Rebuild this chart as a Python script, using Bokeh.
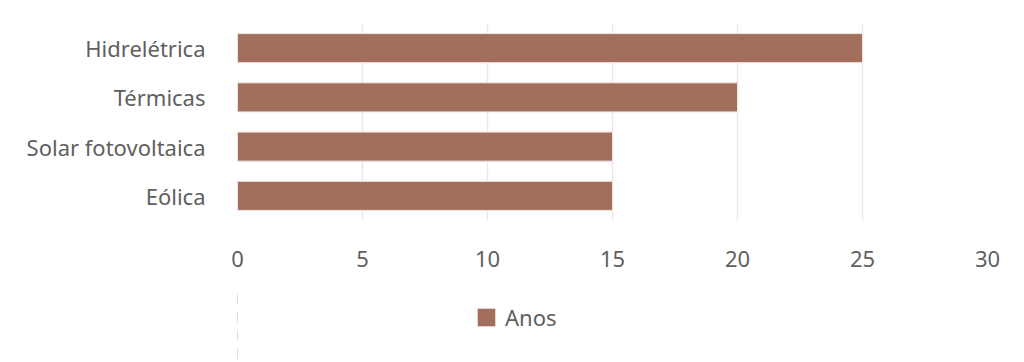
from bokeh.plotting import figure
from bokeh.models import ColumnDataSource, Legend, LegendItem, FactorRange
from bokeh.layouts import column
from bokeh.embed import file_html
from bokeh.resources import INLINE

categories = ["Hidrelétrica", "Térmicas", "Solar fotovoltaica", "Eólica"]
anos = [25, 20, 15, 15]
x_ticks = [0, 5, 10, 15, 20, 25, 30]
series_name = "Anos"

BAR = "#A26F5C"
TXT = "#5F5F5F"
FONT = "Noto Sans"

src = ColumnDataSource(dict(cat=categories, val=anos))

p = figure(width=1024, height=290, output_backend="svg", toolbar_location=None,
           y_range=FactorRange(factors=list(reversed(categories)), range_padding=0),
           x_range=(0, 30), min_border_left=237, min_border_right=37,
           min_border_top=23, min_border_bottom=70)

r = p.hbar(y="cat", right="val", left=0, height=0.59, source=src,
           fill_color=BAR, line_color="#F3E6E2", line_width=1)

p.outline_line_color = None
p.background_fill_color = "white"
p.border_fill_color = "white"

p.xaxis.ticker = x_ticks
p.xaxis.axis_line_color = None
p.xaxis.major_tick_line_color = None
p.xaxis.minor_tick_line_color = None
p.xaxis.major_label_text_font = FONT
p.xaxis.major_label_text_font_size = "22px"
p.xaxis.major_label_text_color = TXT
p.xaxis.major_label_standoff = 24

p.yaxis.axis_line_color = None
p.yaxis.major_tick_line_color = None
p.yaxis.minor_tick_line_color = None
p.yaxis.major_label_text_font = FONT
p.yaxis.major_label_text_font_size = "22px"
p.yaxis.major_label_text_color = TXT
p.yaxis.major_label_standoff = 26

p.xgrid.grid_line_color = "#F0E6E4"
p.xgrid.grid_line_width = 1.5
p.ygrid.grid_line_color = None

# legend strip below the chart (its bars lie left of its visible range)
start = max(anos) + 5
lg = figure(width=1024, height=72, output_backend="svg", toolbar_location=None,
            x_range=(start, start + 30),
            y_range=FactorRange(factors=list(reversed(categories))),
            x_axis_location=None, y_axis_location=None,
            min_border=0)
lg.grid.visible = False
lg.outline_line_color = None
lg.background_fill_color = "white"
lg.border_fill_color = "white"
lr = lg.hbar(y="cat", right="val", left=0, height=0.59, source=src,
             fill_color=BAR, line_color=None)

legend = Legend(items=[LegendItem(label=series_name, renderers=[lr])],
                location=(238, 30), orientation="horizontal",
                glyph_width=22, glyph_height=22,
                label_text_font=FONT, label_text_font_size="22px",
                label_text_color=TXT, border_line_color=None,
                background_fill_alpha=0, padding=0, margin=0, label_standoff=8)
lg.add_layout(legend, "center")

layout = column(p, lg, spacing=0)
open("out.html", "w").write(file_html(layout, INLINE))
